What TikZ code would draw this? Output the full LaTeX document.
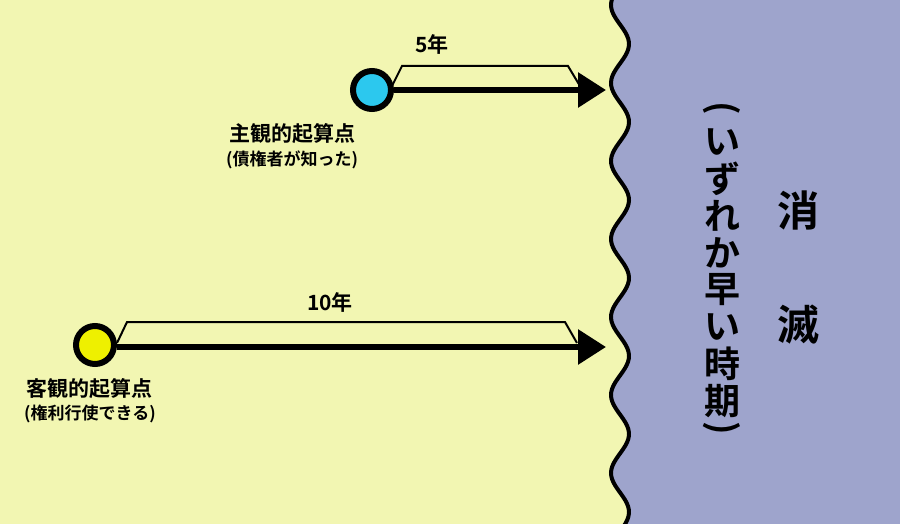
\documentclass[tikz,border=0pt]{standalone}
\usepackage{fontspec}
\newfontfamily\jp{Noto Sans CJK JP Bold}
\usetikzlibrary{arrows.meta}
\definecolor{bgy}{HTML}{F2F6B2}
\definecolor{purp}{HTML}{9EA4CC}
\definecolor{cblue}{HTML}{2CC8EE}
\definecolor{cyel}{HTML}{EEF000}
\tikzset{x=1pt,y=-1pt,
 pt/.style={circle,draw=black,line width=6pt,minimum size=38pt,inner sep=0},
 bigarr/.style={line width=6pt,-{Triangle[length=28pt,width=34pt]}},
 brk/.style={line width=2pt,line join=miter},
 lab/.style={font=\jp\fontsize{21}{21}\selectfont},
 sub/.style={font=\jp\fontsize{17}{17}\selectfont},
 vt/.style={font=\jp\fontsize{36}{36}\selectfont,inner sep=0}}
\begin{document}
\begin{tikzpicture}
\useasboundingbox (0,0) rectangle (900,524);
\clip (0,0) rectangle (900,524);
\fill[bgy] (0,0) rectangle (900,524);
\fill[purp] (900,-5) -- (620,-5) -- plot[domain=-5:530,samples=160,smooth] ({620-9*cos(deg((\x-5)*2*pi/78))},\x) -- (620,530) -- (900,530) -- cycle;
\draw[line width=4pt] plot[domain=-5:530,samples=160,smooth] ({620-9*cos(deg((\x-5)*2*pi/78))},\x);
\node[pt,fill=cblue] (c1) at (372,90) {};
\coordinate (e1) at (606,90);
\draw[bigarr] (c1.east) -- (e1);
\draw[brk] (392,86) -- (402,66) -- (568,66) -- (580,86);
\node[lab] (t5) at (432,44) {5年};
\node[lab] (l1) at (292,134) {主観的起算点};
\node[sub] (s1) at (292,160) {(債権者が知った)};
\node[pt,fill=cyel] (c2) at (95,345) {};
\coordinate (e2) at (606,347);
\draw[bigarr] (c2.east) ++(0,2) -- (e2);
\draw[brk] (117,343) -- (127,322) -- (565,322) -- (577,343);
\node[lab] (t10) at (330,302) {10年};
\node[lab] (l2) at (90,389) {客観的起算点};
\node[sub] (s2) at (90,414) {(権利行使できる)};
\node[font=\jp\fontsize{42}{42}\selectfont] (k1) at (798,210) {消};
\node[font=\jp\fontsize{42}{42}\selectfont] (k2) at (798,325) {滅};
\node[vt,rotate=-90] (p1) at (722,108) {(};
\foreach \c [count=\i] in {い,ず,れ,か,早,い,時,期}
  \node[vt] (v\i) at (722,105+\i*37) {\c};
\node[vt,rotate=-90] (p2) at (722,428) {)};
\end{tikzpicture}
\end{document}
